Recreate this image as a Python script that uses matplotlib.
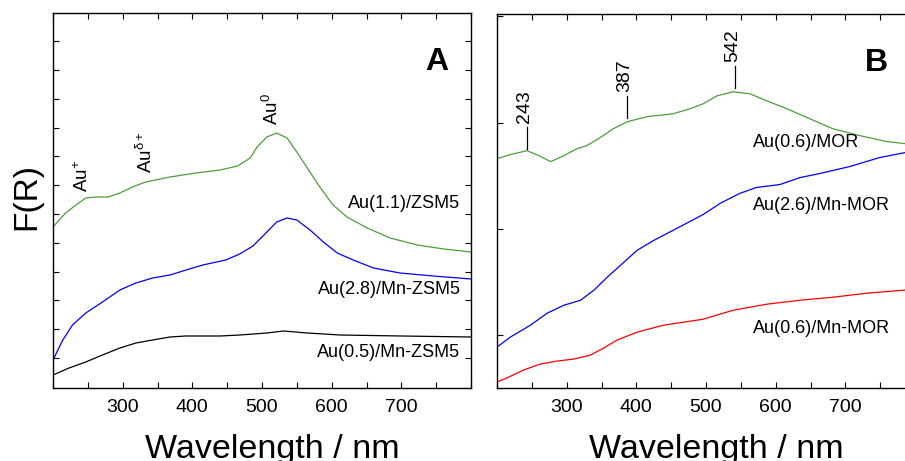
import numpy as np
import matplotlib; matplotlib.use("Agg")
import matplotlib.pyplot as plt
from matplotlib.ticker import MultipleLocator

plt.rcParams["font.family"] = ["Liberation Sans", "DejaVu Sans"]
plt.rcParams["mathtext.fontset"] = "custom"
plt.rcParams["mathtext.rm"] = "Liberation Sans"
plt.rcParams["mathtext.it"] = "Liberation Sans"
plt.rcParams["mathtext.default"] = "regular"

# ---- panel A: Au on ZSM5 (F(R), arbitrary units) ----
wl_a_green = [200, 218, 233, 247, 261, 279, 296, 314, 333, 368, 405, 440, 465, 483, 493, 507, 521,
              536, 550, 565, 583, 602, 622, 651, 684, 723, 761, 800]
fr_a_green = [161, 175, 183, 190, 191, 191, 195, 201, 206, 211, 215, 218, 222, 230, 241, 251, 255,
              250, 236, 220, 201, 183, 171, 160, 150, 143, 139, 136]
wl_a_blue = [200, 214, 228, 247, 271, 296, 319, 343, 368, 391, 415, 448, 468, 487, 507, 521, 536,
             550, 569, 588, 608, 631, 660, 698, 746, 800]
fr_a_blue = [28, 48, 63, 75, 86, 98, 105, 110, 113, 118, 123, 128, 134, 142, 156, 166, 170,
             168, 158, 146, 135, 128, 120, 115, 112, 109]
wl_a_black = [200, 223, 247, 271, 296, 319, 343, 368, 391, 440, 468, 507, 531, 565, 612, 700, 800]
fr_a_black = [13, 20, 26, 33, 40, 45, 48, 51, 52, 52, 53, 55, 57, 55, 53, 52, 51]

# ---- panel B: Au on MOR ----
wl_b_green = [200, 219, 243, 260, 277, 296, 315, 329, 348, 367, 387, 415, 453, 477, 496, 516, 539,
              563, 587, 616, 649, 682, 721, 760, 800]
fr_b_green = [230, 234, 238, 233, 227, 233, 240, 243, 251, 260, 267, 272, 275, 280, 285, 293, 297,
              295, 288, 280, 270, 260, 253, 247, 244]
wl_b_blue = [200, 219, 248, 272, 296, 320, 339, 358, 382, 401, 425, 458, 496, 520, 548, 572, 606,
             635, 663, 706, 749, 800]
fr_b_blue = [41, 51, 63, 75, 83, 88, 98, 111, 126, 138, 148, 160, 174, 185, 195, 201, 204,
             211, 215, 222, 231, 238]
wl_b_red = [200, 214, 238, 262, 286, 310, 334, 353, 372, 401, 439, 468, 496, 539, 587, 635, 682, 730, 800]
fr_b_red = [6, 10, 18, 24, 27, 29, 33, 40, 48, 56, 63, 66, 69, 78, 84, 88, 91, 95, 99]

labels_a = ["Au(1.1)/ZSM5", "Au(2.8)/Mn-ZSM5", "Au(0.5)/Mn-ZSM5"]
labels_b = ["Au(0.6)/MOR", "Au(2.6)/Mn-MOR", "Au(0.6)/Mn-MOR"]
peaks_b = [243, 387, 542]

GREEN, BLUE, RED = "#4c9e3c", "#0000ff", "#ff0000"

fig = plt.figure(figsize=(9.05, 4.61), dpi=100)
ax1 = fig.add_axes([53/905, 73/461, 418/905, 375/461])
ax2 = fig.add_axes([497/905, 73/461, 418/905, 374/461])

for ax in (ax1, ax2):
    ax.set_xlim(200, 800)
    ax.set_ylim(0, 375)
    ax.xaxis.set_minor_locator(MultipleLocator(50))
    ax.set_xticks([300, 400, 500, 600, 700])
    ax.tick_params(axis="x", which="both", direction="in", top=True, length=4, width=0.8,
                   labelsize=14, pad=8)
    ax.tick_params(axis="y", which="both", direction="in", right=True, length=4, width=0.8,
                   labelleft=False)
    for s in ax.spines.values():
        s.set_linewidth(1.0)
    ax.set_xlabel("Wavelength / nm", fontsize=24.5)
    ax.xaxis.set_label_coords(0.525, -0.122)

ax1.set_yticks(np.arange(30, 375, 28.8))
ax2.set_yticks(np.arange(53, 375, 106.5))

# panel A
ax1.plot(wl_a_green, fr_a_green, color=GREEN, lw=0.9)
ax1.plot(wl_a_blue, fr_a_blue, color=BLUE, lw=0.9)
ax1.plot(wl_a_black, fr_a_black, color="black", lw=0.9)
for lab, y in zip(labels_a, [185, 98, 36]):
    ax1.text(785, y, lab, fontsize=13, ha="right", va="center")
ax1.text(242, 196, "Au$^{+}$", rotation=90, fontsize=13.5, ha="center", va="bottom")
ax1.text(333, 215, "Au$^{δ+}$", rotation=90, fontsize=13.5, ha="center", va="bottom")
ax1.text(514, 263, "Au$^{0}$", rotation=90, fontsize=13.5, ha="center", va="bottom")
ax1.text(0.945, 0.87, "A", transform=ax1.transAxes, fontsize=23, fontweight="bold",
         ha="right", va="center")
ax1.set_ylabel("F(R)", fontsize=24)
ax1.yaxis.set_label_coords(-0.026, 0.512)

# panel B
ax2.plot(wl_b_green, fr_b_green, color=GREEN, lw=0.9)
ax2.plot(wl_b_blue, fr_b_blue, color=BLUE, lw=0.9)
ax2.plot(wl_b_red, fr_b_red, color=RED, lw=0.9)
for lab, y in zip(labels_b, [246, 183, 60]):
    ax2.text(567, y, lab, fontsize=13, ha="left", va="center")
for p, y0 in zip(peaks_b, [240, 271, 301]):
    ax2.plot([p, p], [y0, y0 + 22], color="black", lw=0.9)
    ax2.text(p - 3, y0 + 26, str(p), rotation=90, fontsize=14, ha="center", va="bottom")
ax2.text(0.935, 0.87, "B", transform=ax2.transAxes, fontsize=23, fontweight="bold",
         ha="right", va="center")

fig.savefig("out.png", dpi=100)
